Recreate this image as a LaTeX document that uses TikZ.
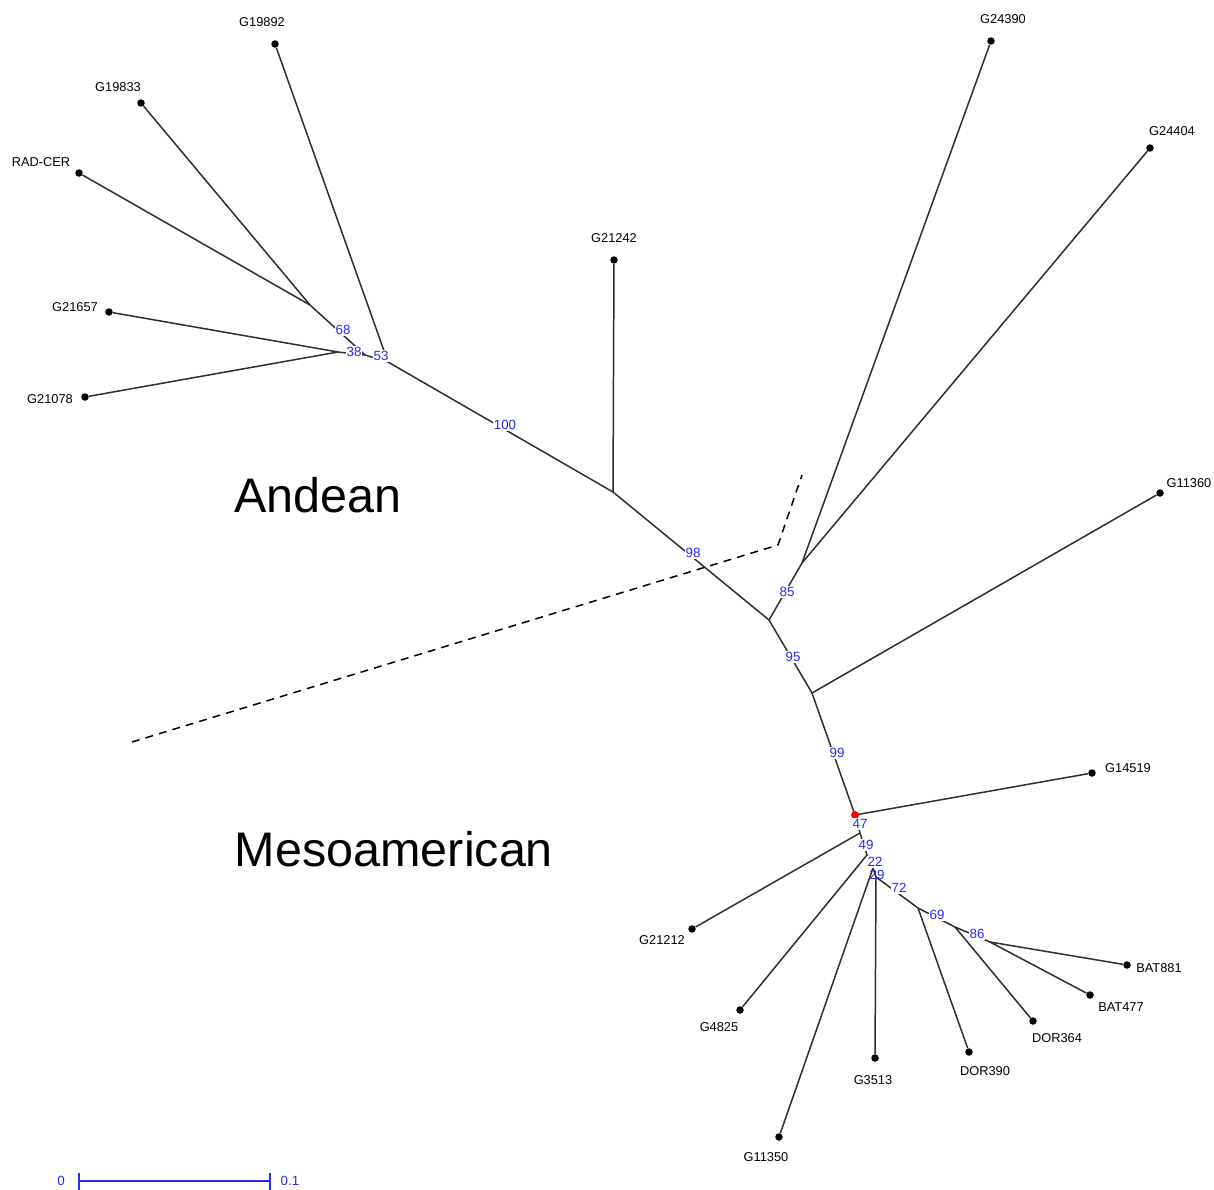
\documentclass[tikz,border=0pt]{standalone}
\usepackage{fontspec}
\setmainfont{Liberation Sans}
\definecolor{edgecol}{RGB}{45,45,45}
\definecolor{bootcol}{RGB}{40,40,255}
\begin{document}
\begin{tikzpicture}[x=0.02cm,y=-0.02cm,
  edge/.style={draw=edgecol,line width=0.85pt},
  leaf/.style={circle,fill=black,inner sep=0pt,minimum size=0.15cm},
  lname/.style={font=\fontsize{7.3}{8}\selectfont,text=black,inner sep=0pt},
  boot/.style={font=\fontsize{7.6}{8}\selectfont,text=bootcol,fill=white,inner sep=0.6pt},
  big/.style={font=\fontsize{27.6}{30}\selectfont,inner sep=0pt}]
\useasboundingbox (0,0) rectangle (1214,1190);
% internal nodes
\coordinate (B) at (310,305);
\coordinate (C) at (338,352);
\coordinate (D) at (365,355);
\coordinate (A) at (388,362);
\coordinate (E) at (613,492);
\coordinate (F) at (769,620);
\coordinate (G) at (802,563);
\coordinate (H) at (812,693);
\coordinate (I) at (855,815);
\coordinate (J) at (860,833);
\coordinate (K) at (867,855);
\coordinate (L) at (873,868);
\coordinate (M) at (876,877);
\coordinate (N) at (918,908);
\coordinate (O) at (955,927);
\coordinate (P) at (990,942);
% leaves
\node[leaf] (l19892) at (275,44) {};
\node[leaf] (l19833) at (141,103) {};
\node[leaf] (lrad) at (79,173) {};
\node[leaf] (l21657) at (109,312) {};
\node[leaf] (l21078) at (85,397) {};
\node[leaf] (l21242) at (614,260) {};
\node[leaf] (l24390) at (991,41) {};
\node[leaf] (l24404) at (1150,148) {};
\node[leaf] (l11360) at (1160,493) {};
\node[leaf] (l14519) at (1092,773) {};
\node[leaf] (l21212) at (692,929) {};
\node[leaf] (l4825) at (740,1010) {};
\node[leaf] (l3513) at (875,1058) {};
\node[leaf] (l11350) at (779,1137) {};
\node[leaf] (ldor390) at (969,1052) {};
\node[leaf] (ldor364) at (1033,1021) {};
\node[leaf] (lbat477) at (1090,995) {};
\node[leaf] (lbat881) at (1127,965) {};
% leaf names
\node[lname] at (262,22) {G19892};
\node[lname] at (118,87) {G19833};
\node[lname] at (41,162) {RAD-CER};
\node[lname] at (75,307) {G21657};
\node[lname] at (50,399) {G21078};
\node[lname] at (614,238) {G21242};
\node[lname] at (1003,19) {G24390};
\node[lname] at (1172,131) {G24404};
\node[lname] at (1189,483) {G11360};
\node[lname] at (1128,768) {G14519};
\node[lname] at (662,940) {G21212};
\node[lname] at (719,1027) {G4825};
\node[lname] at (873,1080) {G3513};
\node[lname] at (766,1157) {G11350};
\node[lname] at (985,1071) {DOR390};
\node[lname] at (1057,1038) {DOR364};
\node[lname] at (1121,1007) {BAT477};
\node[lname] at (1159,968) {BAT881};
% edges
\draw[edge] (l19833) -- (B);
\draw[edge] (lrad) -- (B);
\draw[edge] (l21657) -- (C);
\draw[edge] (l21078) -- (C);
\draw[edge] (B) -- (D);
\draw[edge] (C) -- (D);
\draw[edge] (D) -- (A);
\draw[edge] (l19892) -- (A);
\draw[edge] (A) -- (E);
\draw[edge] (l21242) -- (E);
\draw[edge] (E) -- (F);
\draw[edge] (l24390) -- (G);
\draw[edge] (l24404) -- (G);
\draw[edge] (G) -- (F);
\draw[edge] (F) -- (H);
\draw[edge] (l11360) -- (H);
\draw[edge] (H) -- (I);
\draw[edge] (l14519) -- (I);
\draw[edge] (I) -- (J);
\draw[edge] (l21212) -- (J);
\draw[edge] (J) -- (K);
\draw[edge] (l4825) -- (K);
\draw[edge] (K) -- (L);
\draw[edge] (l11350) -- (L);
\draw[edge] (L) -- (M);
\draw[edge] (l3513) -- (M);
\draw[edge] (M) -- (N);
\draw[edge] (ldor390) -- (N);
\draw[edge] (N) -- (O);
\draw[edge] (ldor364) -- (O);
\draw[edge] (O) -- (P);
\draw[edge] (lbat477) -- (P);
\draw[edge] (lbat881) -- (P);
% root marker
\node[circle,fill=red,inner sep=0pt,minimum size=0.16cm] (root) at (I) {};
% bootstrap values
\node[boot] at (343,330) {68};
\node[boot] at (354,352) {38};
\node[boot] at (381,356) {53};
\node[boot] at (505,425) {100};
\node[boot] at (693,553) {98};
\node[boot] at (787,592) {85};
\node[boot] at (793,657) {95};
\node[boot] at (837,753) {99};
\node[boot] at (860,824) {47};
\node[boot] at (866,845) {49};
\node[boot] at (875,862) {22};
\node[boot,fill=none] at (877,875) {29};
\node[boot] at (899,888) {72};
\node[boot] at (937,915) {69};
\node[boot] at (977,934) {86};
% dashed divider
\coordinate (d1) at (132,742);
\coordinate (d2) at (778,545);
\coordinate (d3) at (802,475);
\draw[black,line width=0.85pt,dash pattern=on 4.5pt off 3.5pt] (d1) -- (d2) -- (d3);
% group labels
\node[big] (andean) at (318,495) {Andean};
\node[big] (meso) at (394,849) {Mesoamerican};
% scale bar
\coordinate (s0) at (79,1181);
\coordinate (s1) at (270,1181);
\draw[bootcol,line width=0.9pt] (s0) -- (s1);
\draw[bootcol,line width=0.9pt] ([yshift=-0.17cm]s0) -- ([yshift=0.17cm]s0);
\draw[bootcol,line width=0.9pt] ([yshift=-0.17cm]s1) -- ([yshift=0.17cm]s1);
\node[boot,fill=none] at (61,1181) {0};
\node[boot,fill=none] at (290,1181) {0.1};
\end{tikzpicture}
\end{document}
